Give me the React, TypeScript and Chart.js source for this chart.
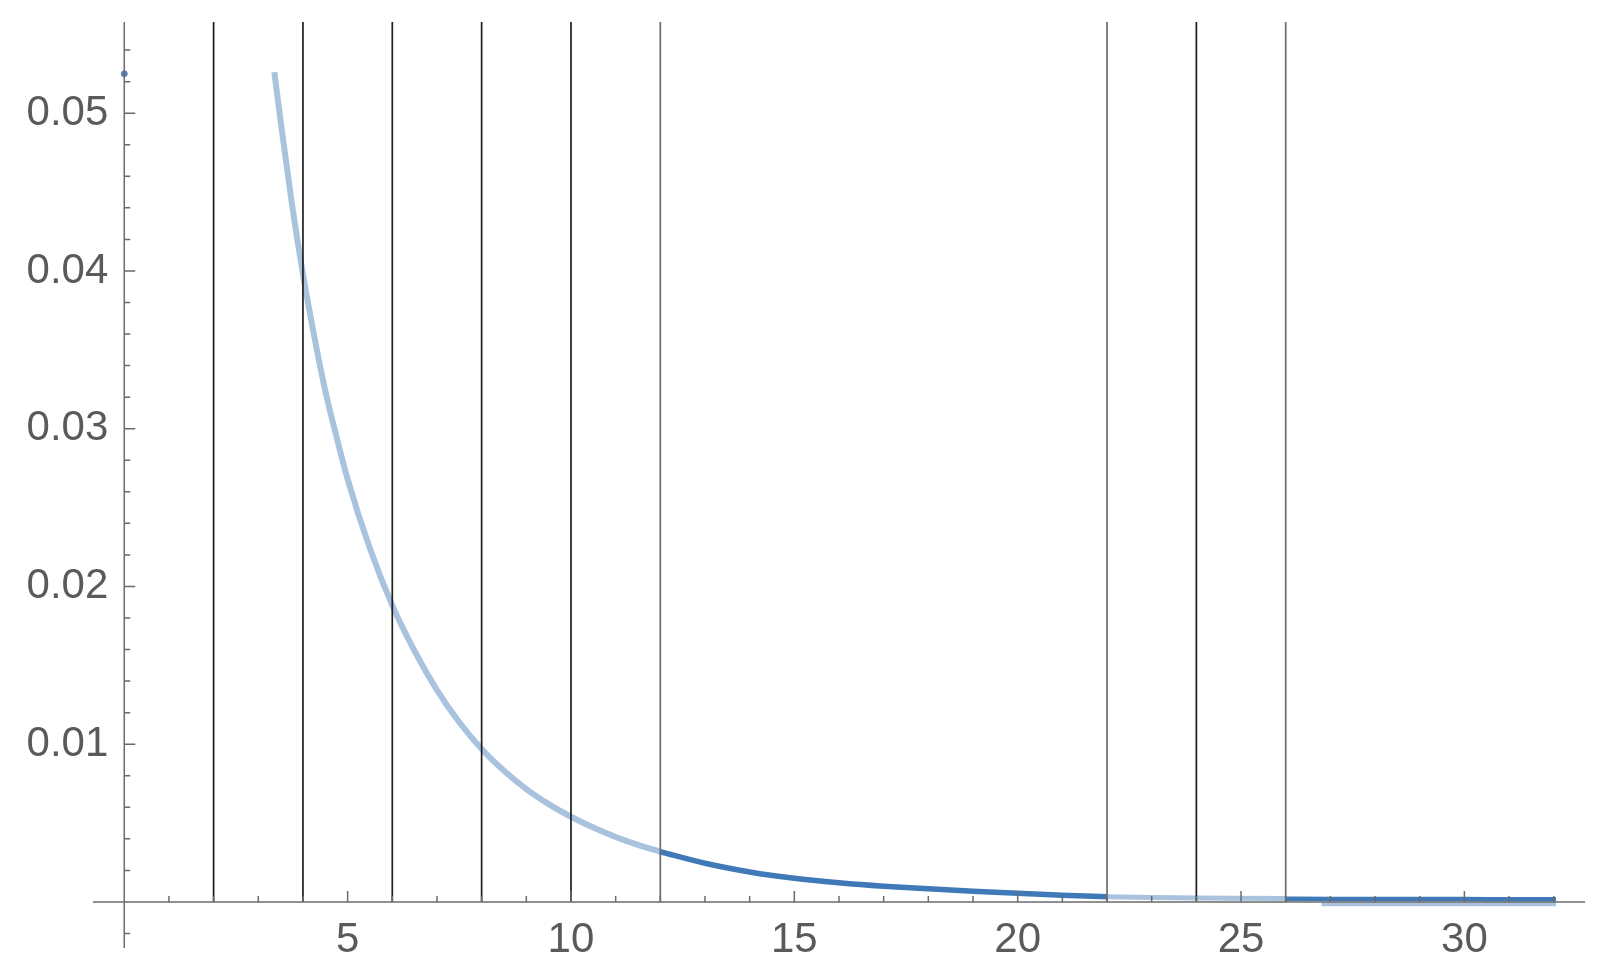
import React, { useEffect, useRef } from "react";
import { Chart, registerables } from "chart.js";

Chart.register(...registerables);

// ---- data ----
const lightX1 = [3.36, 3.5, 3.75, 4.0, 4.25, 4.5, 4.75, 5.0, 5.5, 6.0, 6.5, 7.0, 7.5, 8.0, 8.5, 9.0, 9.5, 10.0, 10.5, 11.0, 11.5, 12.0];
const lightY1 = [0.0526, 0.0495, 0.0443, 0.0398, 0.0359, 0.0324, 0.0295, 0.0268, 0.0224, 0.0188, 0.0159, 0.01343, 0.01139, 0.0097, 0.00831, 0.00715, 0.0062, 0.0054, 0.00472, 0.00412, 0.00362, 0.00318];
const darkX1 = [12, 13, 14, 15, 16, 17, 18, 19, 20, 21, 22];
const darkY1 = [0.00318, 0.00245, 0.0019, 0.0015, 0.00122, 0.001, 0.00083, 0.00068, 0.00055, 0.00043, 0.00033];
const lightX2 = [22, 23, 24, 25, 26];
const lightY2 = [0.00033, 0.00028, 0.00025, 0.00023, 0.00021];
const darkX2 = [26, 27, 28, 29, 30, 31, 32.05];
const darkY2 = [0.0002, 0.00019, 0.00019, 0.00018, 0.00018, 0.00017, 0.00017];
const lightX3 = [26.8, 28, 29, 30, 31, 32.05];
const lightY3 = [-0.00015, -0.00015, -0.00015, -0.00015, -0.00015, -0.00015];
const dotX = [0];
const dotY = [0.0525];
const vLineX = [2, 4, 6, 8, 10, 12, 22, 24, 26];
const vLineDark = [true, true, true, true, true, false, false, true, false];

const xTickValues = [5, 10, 15, 20, 25, 30];
const xTickLabels = ["5", "10", "15", "20", "25", "30"];
const yTickValues = [0.01, 0.02, 0.03, 0.04, 0.05];
const yTickLabels = ["0.01", "0.02", "0.03", "0.04", "0.05"];

const X_MIN = -0.7;
const X_MAX = 32.7;
const Y_MIN = -0.00292;
const Y_MAX = 0.05578;

const LIGHT = "#a9c3df";
const DARK = "#3f79b7";
const AXIS = "#6b6b6b";

const pts = (xs: number[], ys: number[]) => xs.map((x, i) => ({ x, y: ys[i] }));

const axesPlugin = {
  id: "mmaAxes",
  afterDatasetsDraw(chart: any) {
    const { ctx } = chart;
    const xs = chart.scales.x;
    const ys = chart.scales.y;
    const x0 = xs.getPixelForValue(0);
    const y0 = ys.getPixelForValue(0);
    ctx.save();
    ctx.strokeStyle = AXIS;
    ctx.lineWidth = 1.5;
    ctx.beginPath();
    ctx.moveTo(xs.left, y0);
    ctx.lineTo(xs.right, y0);
    ctx.moveTo(x0, ys.top);
    ctx.lineTo(x0, ys.bottom);
    for (let v = 1; v <= 32; v++) {
      const px = xs.getPixelForValue(v);
      const major = v % 5 === 0;
      ctx.moveTo(px, y0);
      ctx.lineTo(px, y0 - (major ? 11 : 6));
    }
    for (let i = -1; i <= 27; i++) {
      if (i === 0) continue;
      const py = ys.getPixelForValue(i * 0.002);
      const major = i % 5 === 0;
      ctx.moveTo(x0, py);
      ctx.lineTo(x0 + (major ? 11 : 6), py);
    }
    ctx.stroke();

    ctx.fillStyle = "#5a5a5a";
    ctx.font = "42px 'Liberation Sans', Arial, sans-serif";
    ctx.textBaseline = "middle";
    ctx.textAlign = "center";
    xTickValues.forEach((v, i) => {
      ctx.fillText(xTickLabels[i], xs.getPixelForValue(v), y0 + 38);
    });
    ctx.textAlign = "right";
    yTickValues.forEach((v, i) => {
      ctx.fillText(yTickLabels[i], x0 - 16, ys.getPixelForValue(v));
    });
    ctx.restore();
  },
};

export default function App() {
  const ref = useRef<HTMLCanvasElement | null>(null);
  useEffect(() => {
    if (!ref.current) return;
    const vLineSets = vLineX.map((x, i) => ({
      data: [
        { x, y: 0 },
        { x, y: Y_MAX },
      ],
      borderColor: vLineDark[i] ? "#1e1e1e" : "#6c6c6c",
      borderWidth: 1.7,
      pointRadius: 0,
      showLine: true,
      tension: 0,
    }));
    const curve = (xs: number[], ys: number[], color: string, w: number) => ({
      data: pts(xs, ys),
      borderColor: color,
      borderWidth: w,
      pointRadius: 0,
      showLine: true,
      cubicInterpolationMode: "monotone" as const,
    });
    const chart = new Chart(ref.current, {
      type: "scatter",
      data: {
        datasets: [
          ...vLineSets,
          {
            data: pts(dotX, dotY),
            backgroundColor: "#5b82b8",
            borderColor: "#5b82b8",
            pointRadius: 3,
            showLine: false,
          },
          curve(darkX1, darkY1, DARK, 5.5),
          curve(darkX2, darkY2, DARK, 4.5),
          curve(lightX1, lightY1, LIGHT, 6),
          curve(lightX2, lightY2, LIGHT, 5),
          curve(lightX3, lightY3, LIGHT, 4),
        ] as any,
      },
      options: {
        animation: false,
        responsive: false,
        devicePixelRatio: 1,
        layout: { padding: { left: 93, right: 19, top: 22, bottom: 29 } },
        plugins: { legend: { display: false }, tooltip: { enabled: false } },
        scales: {
          x: { type: "linear", min: X_MIN, max: X_MAX, display: false },
          y: { type: "linear", min: Y_MIN, max: Y_MAX, display: false },
        },
      },
      plugins: [axesPlugin],
    });
    return () => chart.destroy();
  }, []);
  return (
    <div style={{ position: "fixed", left: 0, top: 0, width: 1604, height: 977, background: "#fff" }}>
      <canvas ref={ref} width={1604} height={977} style={{ display: "block" }} />
    </div>
  );
}
